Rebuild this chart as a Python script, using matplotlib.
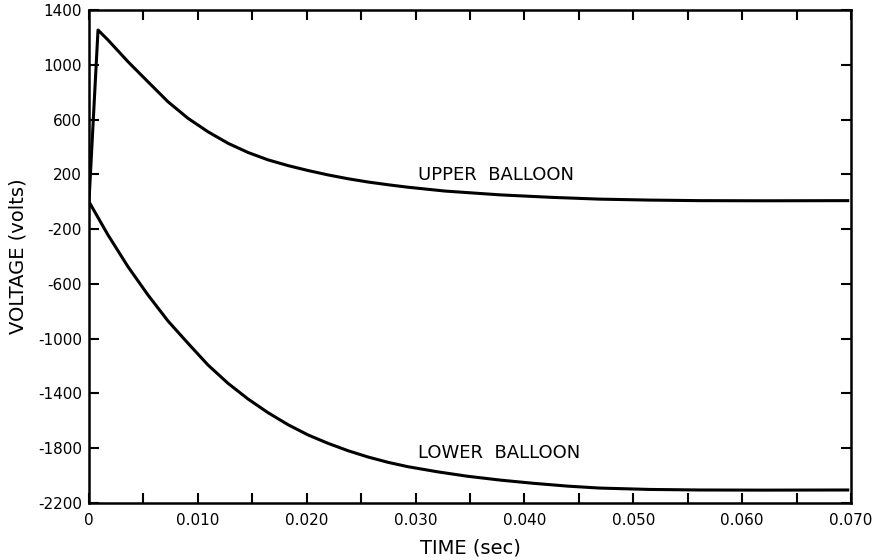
import numpy as np
import matplotlib
matplotlib.use('Agg')
import matplotlib.pyplot as plt
from matplotlib.ticker import MultipleLocator, FixedFormatter, FixedLocator

# -----------------------------------------------------------------------
# Data
# -----------------------------------------------------------------------
T_UPPER = [0.0, 0.00083, 0.00175, 0.00358, 0.00542, 0.00726, 0.0091, 0.01093,
           0.01277, 0.0146, 0.01644, 0.01828, 0.02012, 0.02195, 0.02379,
           0.02563, 0.02747, 0.0293, 0.0327, 0.0378, 0.0425, 0.0469, 0.0515,
           0.0561, 0.0620, 0.0697]
V_UPPER = [0, 1254, 1181, 1023, 876, 730, 609, 511,
           427, 360, 306, 264, 228, 196, 168,
           144, 124, 106, 78, 50, 32, 19, 12,
           8, 7, 8]

T_LOWER = [0.0, 0.00175, 0.00358, 0.00542, 0.00726, 0.0091, 0.01093, 0.01277,
           0.0146, 0.01644, 0.01828, 0.02012, 0.02195, 0.02379, 0.02563,
           0.02747, 0.0293, 0.0320, 0.0347, 0.0378, 0.0408, 0.0440, 0.0469,
           0.0515, 0.0561, 0.0620, 0.0697]
V_LOWER = [0, -243, -474, -681, -871, -1034, -1192, -1326,
           -1440, -1540, -1628, -1703, -1764, -1818, -1864,
           -1903, -1935, -1972, -2004, -2033, -2056, -2077, -2091,
           -2101, -2105, -2106, -2105]

X_TICKS = [0.0, 0.010, 0.020, 0.030, 0.040, 0.050, 0.060, 0.070]
X_LABELS = ['0', '0.010', '0.020', '0.030', '0.040', '0.050', '0.060', '0.070']
Y_TICKS = [-2200, -1800, -1400, -1000, -600, -200, 200, 600, 1000, 1400]
Y_LABELS = ['-2200', '-1800', '-1400', '-1000', '-600',
            '-200', '200', '600', '1000', '1400']

plt.rcParams['font.family'] = ['DejaVu Sans']

fig = plt.figure(figsize=(8.74, 5.6), dpi=100)
ax = fig.add_axes([0.1018, 0.1018, 0.8719, 0.8803])

ax.plot(T_UPPER, V_UPPER, color='black', lw=2.2, solid_joinstyle='round')
ax.plot(T_LOWER, V_LOWER, color='black', lw=2.2, solid_joinstyle='round')

ax.text(0.0302, 195, 'UPPER  BALLOON', fontsize=13, va='center', ha='left')
ax.text(0.0302, -1837, 'LOWER  BALLOON', fontsize=13, va='center', ha='left')

ax.set_xlim(0, 0.070)
ax.set_ylim(-2200, 1400)

ax.xaxis.set_major_locator(FixedLocator(X_TICKS))
ax.xaxis.set_major_formatter(FixedFormatter(X_LABELS))
ax.xaxis.set_minor_locator(MultipleLocator(0.005))
ax.yaxis.set_major_locator(FixedLocator(Y_TICKS))
ax.yaxis.set_major_formatter(FixedFormatter(Y_LABELS))

ax.tick_params(which='both', direction='in', top=True, right=True,
               length=7, width=1.5, labelsize=11)
ax.tick_params(axis='x', pad=7)
ax.tick_params(axis='y', pad=5)

for sp in ax.spines.values():
    sp.set_linewidth(1.8)

ax.set_xlabel('TIME (sec)', fontsize=14, va='center')
ax.set_ylabel('VOLTAGE (volts)', fontsize=14, va='center')
ax.xaxis.set_label_coords(0.5, -0.0913)
ax.yaxis.set_label_coords(-0.0932, 0.5)

fig.savefig('out.png', dpi=100)
